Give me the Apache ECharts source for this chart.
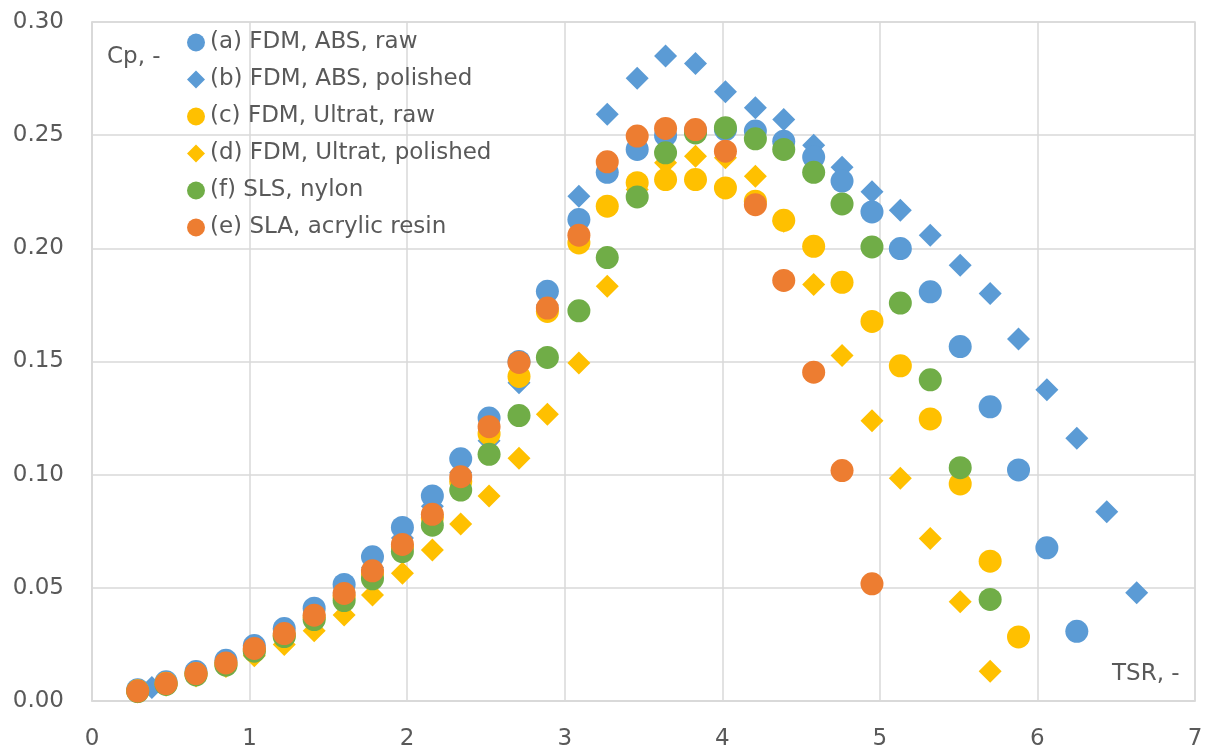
<!DOCTYPE html>
<html>
<head>
<meta charset="utf-8">
<script src="https://cdn.jsdelivr.net/npm/echarts@6/dist/echarts.min.js"></script>
<style>
  html, body { margin: 0; padding: 0; background: #fff; }
  #main { width: 1208px; height: 751px; }
</style>
</head>
<body>
<div id="main"></div>
<script>
// TSR grid shared by most runs
var tsr = [0.29, 0.47, 0.66, 0.85, 1.03, 1.22, 1.41, 1.60, 1.78, 1.97, 2.16, 2.34, 2.52, 2.71, 2.89,
  3.09, 3.27, 3.46, 3.64, 3.83, 4.02, 4.21, 4.39, 4.58, 4.76, 4.95, 5.13, 5.32, 5.51, 5.70,
  5.88, 6.06, 6.25, 6.44, 6.63];
// polished ABS run starts a bit later
var tsrB = [0.38, 0.47, 0.66, 0.85, 1.03, 1.22, 1.41, 1.60, 1.78, 1.97, 2.16, 2.34, 2.52, 2.71, 2.89,
  3.09, 3.27, 3.46, 3.64, 3.83, 4.02, 4.21, 4.39, 4.58, 4.76, 4.95, 5.13, 5.32, 5.51, 5.70,
  5.88, 6.06, 6.25, 6.44, 6.63];

var cpA = [0.005, 0.0085, 0.013, 0.018, 0.0245, 0.032, 0.041, 0.0515, 0.0637, 0.0767, 0.0906, 0.107,
  0.125, 0.150, 0.181, 0.2127, 0.2336, 0.2437, 0.2499, 0.252, 0.2525, 0.2518, 0.2473, 0.2403,
  0.2297, 0.2161, 0.1999, 0.1808, 0.1566, 0.1300, 0.1021, 0.0677, 0.0308];
var cpB = [0.006, 0.008, 0.012, 0.017, 0.023, 0.030, 0.038, 0.048, 0.059, 0.072, 0.086, 0.101,
  0.115, 0.1406, 0.175, 0.223, 0.2592, 0.2751, 0.2850, 0.2817, 0.2692, 0.2621, 0.2569, 0.2456,
  0.2358, 0.2250, 0.2168, 0.2058, 0.1925, 0.1800, 0.1599, 0.1375, 0.1161, 0.0836, 0.0478];
var cpC = [0.0045, 0.0078, 0.012, 0.0165, 0.0225, 0.029, 0.037, 0.046, 0.056, 0.068, 0.081, 0.097,
  0.118, 0.1434, 0.1721, 0.2024, 0.2186, 0.2290, 0.2304, 0.2304, 0.2267, 0.2208, 0.2124, 0.2009,
  0.1850, 0.1677, 0.1481, 0.1246, 0.0959, 0.0618, 0.0283];
var cpD = [0.004, 0.007, 0.011, 0.0152, 0.020, 0.025, 0.031, 0.038, 0.0468, 0.0564, 0.0667, 0.0782,
  0.0906, 0.1073, 0.1267, 0.1493, 0.1832, 0.226, 0.2378, 0.2407, 0.240, 0.2319, 0.212, 0.184,
  0.1527, 0.1238, 0.0984, 0.0718, 0.0438, 0.0131];
var cpF = [0.0042, 0.0073, 0.0115, 0.0158, 0.022, 0.0285, 0.036, 0.0444, 0.054, 0.066, 0.0777, 0.0932,
  0.109, 0.1261, 0.1518, 0.1724, 0.1959, 0.2227, 0.2422, 0.251, 0.2533, 0.2484, 0.2437, 0.2336,
  0.2196, 0.2006, 0.1758, 0.1419, 0.1031, 0.0449];
var cpE = [0.0044, 0.0077, 0.0121, 0.0168, 0.0232, 0.0298, 0.0379, 0.0475, 0.0575, 0.0692, 0.0825, 0.0991,
  0.1212, 0.1496, 0.1736, 0.2058, 0.2382, 0.2496, 0.2530, 0.2525, 0.2429, 0.2193, 0.1858, 0.1453,
  0.1018, 0.0518];

var names = ['(a) FDM, ABS, raw', '(b) FDM, ABS, polished', '(c) FDM, Ultrat, raw',
  '(d) FDM, Ultrat, polished', '(f) SLS, nylon', '(e) SLA, acrylic resin'];

function pairs(xs, ys) {
  return ys.map(function (y, i) { return [xs[i], y]; });
}

var font = '"DejaVu Sans", sans-serif';
var gridColor = '#D9D9D9';
var textColor = '#595959';

var myChart = echarts.init(document.getElementById('main'), null, { renderer: 'canvas' });

function sc(name, data, symbol, color) {
  return {
    name: name,
    type: 'scatter',
    symbol: symbol,
    symbolSize: 23,
    itemStyle: { color: color, opacity: 1 },
    data: data
  };
}

var option = {
  animation: false,
  backgroundColor: '#fff',
  grid: {
    left: 92,
    right: 13,
    top: 22,
    bottom: 50,
    show: true,
    borderColor: gridColor,
    borderWidth: 1.5
  },
  legend: {
    data: names,
    orient: 'vertical',
    left: 187,
    top: 31,
    padding: 0,
    itemWidth: 18,
    itemHeight: 18,
    itemGap: 14,
    textStyle: { fontSize: 23, lineHeight: 23, color: textColor, fontFamily: font }
  },
  xAxis: {
    type: 'value',
    min: 0,
    max: 7,
    interval: 1,
    axisLine: { lineStyle: { color: gridColor, width: 1.5 } },
    axisTick: { show: false },
    splitLine: { lineStyle: { color: gridColor, width: 1.5 } },
    axisLabel: { fontSize: 23, color: textColor, fontFamily: font, margin: 27 }
  },
  yAxis: {
    type: 'value',
    min: 0,
    max: 0.30,
    interval: 0.05,
    axisLine: { show: true, lineStyle: { color: gridColor, width: 1.5 } },
    axisTick: { show: false },
    splitLine: { lineStyle: { color: gridColor, width: 1.5 } },
    axisLabel: {
      fontSize: 23, color: textColor, fontFamily: font, margin: 28,
      formatter: function (v) { return v.toFixed(2); }
    }
  },
  graphic: [
    { type: 'text', left: 107, top: 46, style: { text: 'Cp, -', fontSize: 23, fill: textColor, fontFamily: font } },
    { type: 'text', left: 1112, top: 663, style: { text: 'TSR, -', fontSize: 23, fill: textColor, fontFamily: font } }
  ],
  // drawing order: later series on top
  series: [
    sc(names[1], pairs(tsrB, cpB), 'diamond', '#5B9BD5'),
    sc(names[0], pairs(tsr, cpA), 'circle', '#5B9BD5'),
    sc(names[3], pairs(tsr, cpD), 'diamond', '#FFC000'),
    sc(names[2], pairs(tsr, cpC), 'circle', '#FFC000'),
    sc(names[4], pairs(tsr, cpF), 'circle', '#70AD47'),
    sc(names[5], pairs(tsr, cpE), 'circle', '#ED7D31')
  ]
};

myChart.setOption(option);
</script>
</body>
</html>
